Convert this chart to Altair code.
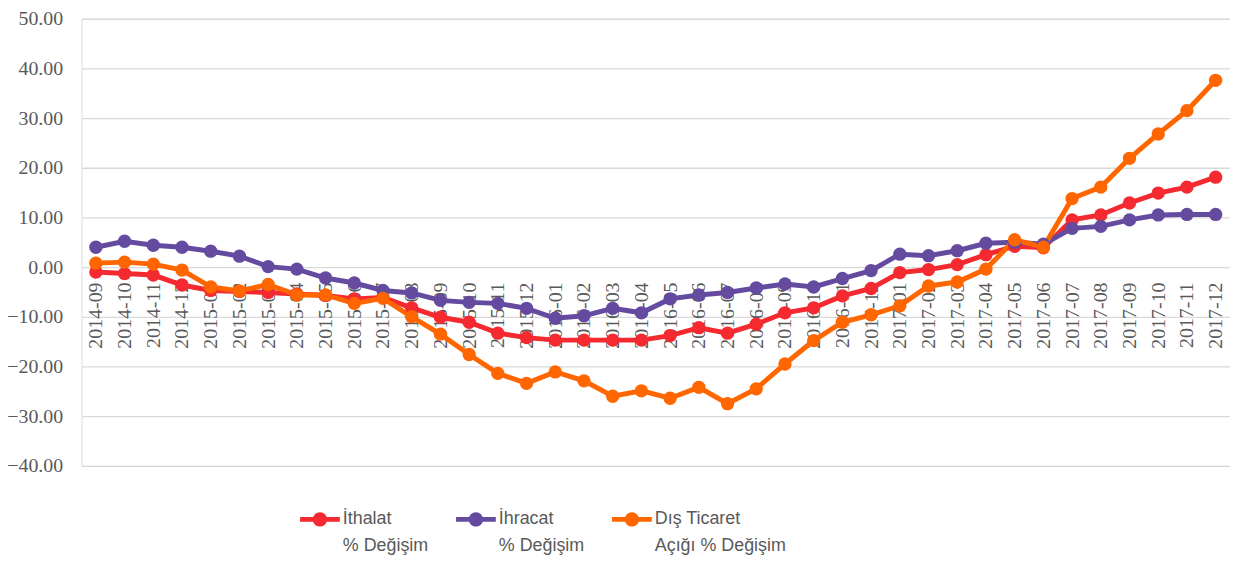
import altair as alt
import pandas as pd

months = ["2014-09", "2014-10", "2014-11", "2014-12",
          "2015-01", "2015-02", "2015-03", "2015-04", "2015-05", "2015-06",
          "2015-07", "2015-08", "2015-09", "2015-10", "2015-11", "2015-12",
          "2016-01", "2016-02", "2016-03", "2016-04", "2016-05", "2016-06",
          "2016-07", "2016-08", "2016-09", "2016-10", "2016-11", "2016-12",
          "2017-01", "2017-02", "2017-03", "2017-04", "2017-05", "2017-06",
          "2017-07", "2017-08", "2017-09", "2017-10", "2017-11", "2017-12"]

ithalat = [-1.0, -1.3, -1.6, -3.6,
           -4.7, -4.9, -5.1, -5.4, -5.7, -6.4, -6.1, -8.2, -10.1, -11.1, -13.3, -14.2,
           -14.7, -14.7, -14.7, -14.7, -13.8, -12.2, -13.3, -11.5, -9.2, -8.2, -5.8, -4.3,
           -1.1, -0.5, 0.5, 2.5, 4.2, 3.9, 9.5, 10.5, 12.9, 14.9, 16.1, 18.1]

ihracat = [4.0, 5.2, 4.4, 4.0,
           3.2, 2.2, 0.1, -0.4, -2.2, -3.2, -4.7, -5.2, -6.7, -7.1, -7.3, -8.3,
           -10.3, -9.8, -8.3, -9.2, -6.4, -5.6, -5.1, -4.2, -3.4, -4.0, -2.3, -0.7,
           2.6, 2.3, 3.3, 4.8, 5.0, 4.6, 7.8, 8.2, 9.5, 10.5, 10.6, 10.6]

dis_ticaret = [0.8, 1.0, 0.6, -0.6,
               -4.0, -4.8, -3.5, -5.6, -5.6, -7.3, -6.3, -10.0, -13.5, -17.6, -21.4, -23.4,
               -21.1, -22.9, -26.0, -24.9, -26.4, -24.2, -27.5, -24.5, -19.5, -14.8, -11.1, -9.6,
               -7.8, -3.8, -3.0, -0.4, 5.5, 4.0, 13.8, 16.1, 21.9, 26.8, 31.5, 37.6]

series_names = ["İthalat|% Değişim", "İhracat|% Değişim", "Dış Ticaret|Açığı % Değişim"]
series_colors = ["#F42A30", "#644BA0", "#FF6600"]

rows = []
for name, vals in zip(series_names, [ithalat, ihracat, dis_ticaret]):
    for m, v in zip(months, vals):
        rows.append({"month": m, "value": v, "series": name})
df = pd.DataFrame(rows)

x_enc = alt.X("month:N", sort=months, title=None,
              scale=alt.Scale(padding=0.5),
              axis=alt.Axis(labelAngle=270, labelAlign="right", labelBaseline="middle",
                            labelPadding=15, ticks=False, tickSize=0, domain=False,
                            grid=False, offset=-200, labelFont="Liberation Serif",
                            labelFontSize=20, labelColor="#595959", zindex=0,
                            labelOverlap=False))
y_enc = alt.Y("value:Q", title=None,
              scale=alt.Scale(domain=[-40, 50], nice=False, zero=False),
              axis=alt.Axis(values=[-40, -30, -20, -10, 0, 10, 20, 30, 40, 50],
                            format=".2f", ticks=False, tickSize=0, domain=False,
                            labelPadding=19, labelFont="Liberation Serif",
                            labelFontSize=20, labelColor="#595959",
                            gridColor="#D9D9D9", gridWidth=1.3, zindex=0))
color_scale = alt.Scale(domain=series_names, range=series_colors)

sym_path = ("M-1,-0.12 L1,-0.12 L1,0.12 L-1,0.12 Z "
            "M0.36,0 A0.36,0.36 0 1,1 -0.36,0 A0.36,0.36 0 1,1 0.36,0 Z")

legend = alt.Legend(title=None, orient="none", direction="horizontal",
                    legendX=220, legendY=484,
                    symbolType=sym_path, symbolSize=1600,
                    symbolStrokeWidth=0, symbolOpacity=1,
                    labelExpr="split(datum.label, '|')",
                    labelFont="Liberation Sans", labelFontSize=18,
                    labelColor="#595959", labelBaseline="middle",
                    labelOffset=3, columnPadding=27, labelLimit=400,
                    padding=0)

lines = alt.Chart(df).mark_line(strokeWidth=5).encode(
    x=x_enc, y=y_enc,
    color=alt.Color("series:N", scale=color_scale, legend=legend),
)
points = alt.Chart(df).mark_circle(size=180, opacity=1).encode(
    x=x_enc, y=y_enc,
    color=alt.Color("series:N", scale=color_scale, legend=legend),
)

chart = alt.layer(lines, points).properties(
    width=1156, height=450,
    autosize=alt.AutoSizeParams(type="none"),
    padding={"left": 74, "top": 9, "right": 0, "bottom": 90},
).configure_view(stroke=None).configure(
    style={"guide-label": {"lineHeight": 27}}
)

chart.save("out.html", embed_options={"renderer": "svg", "actions": False})
